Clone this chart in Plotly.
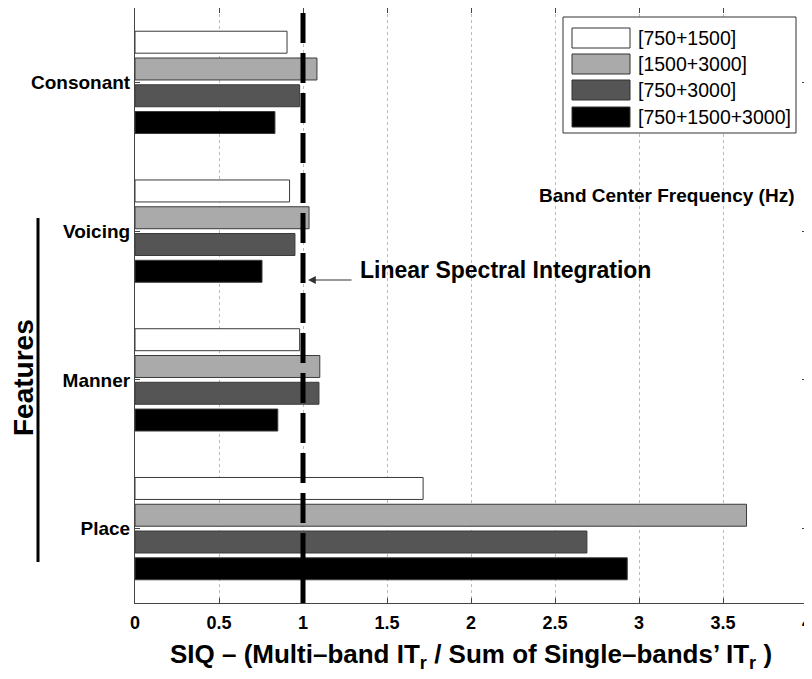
import plotly.graph_objects as go

features = ["Consonant", "Voicing", "Manner", "Place"]

bands = ["[750+1500]", "[1500+3000]", "[750+3000]", "[750+1500+3000]"]
band_colors = ["#ffffff", "#aaaaaa", "#555555", "#000000"]

siq_750_1500 = [0.905, 0.92, 0.98, 1.715]
siq_1500_3000 = [1.083, 1.036, 1.10, 3.64]
siq_750_3000 = [0.98, 0.952, 1.095, 2.69]
siq_all = [0.833, 0.756, 0.85, 2.93]

series = [siq_750_1500, siq_1500_3000, siq_750_3000, siq_all]

x_ticks = [0, 0.5, 1, 1.5, 2, 2.5, 3, 3.5, 4]

FONT = "Liberation Sans, Arial, Helvetica, sans-serif"


# page pixel -> paper coords (page has an 8px body margin)
def px_x(px):
    return (px - 135) / 672


def px_y(py):
    return (603 - py) / 595


fig = go.Figure()

for name, color, vals in zip(bands, band_colors, series):
    fig.add_bar(
        name=name,
        x=vals,
        y=features,
        orientation="h",
        marker=dict(color=color, line=dict(color="#3a3a3a", width=1)),
        showlegend=False,
    )

# linear spectral integration reference
fig.add_shape(type="line", xref="x", yref="paper", x0=1, x1=1, y0=0, y1=1,
              line=dict(color="black", width=5, dash="30px,10px"))

# hand made legend with wide swatches
fig.add_shape(type="rect", xref="paper", yref="paper",
              x0=px_x(563), x1=px_x(796), y0=px_y(133), y1=px_y(17),
              line=dict(color="#333333", width=1), fillcolor="white")
row_px = [38, 64, 90, 117]
for name, color, py in zip(bands, band_colors, row_px):
    fig.add_shape(type="rect", xref="paper", yref="paper",
                  x0=px_x(572), x1=px_x(630), y0=px_y(py + 10), y1=px_y(py - 10),
                  line=dict(color="#333333", width=1), fillcolor=color)
    fig.add_annotation(x=px_x(636), y=px_y(py), xref="paper", yref="paper",
                       text=name, showarrow=False,
                       xanchor="left", yanchor="middle",
                       font=dict(size=19.5, color="black"))

fig.add_annotation(x=px_x(666), y=px_y(195), xref="paper", yref="paper",
                   text="<b>Band Center Frequency (Hz)</b>", showarrow=False,
                   xanchor="center", yanchor="middle",
                   font=dict(size=19, color="black"))

fig.add_annotation(x=1.327, y=px_y(270), xref="x", yref="paper",
                   text="<b>Linear Spectral Integration</b>", showarrow=False,
                   xanchor="left", yanchor="middle",
                   font=dict(size=23, color="black"))
fig.add_annotation(x=1.03, y=px_y(280), xref="x", yref="paper", text="",
                   showarrow=True, axref="pixel", ayref="pixel", ax=45, ay=0,
                   arrowhead=2, arrowsize=1.3, arrowwidth=1.2, arrowcolor="#333333")

# Features bracket
fig.add_shape(type="line", xref="paper", yref="paper",
              x0=px_x(38), x1=px_x(38), y0=px_y(562), y1=px_y(218),
              line=dict(color="black", width=3))
fig.add_annotation(x=px_x(23), y=px_y(378), xref="paper", yref="paper",
                   text="<b>Features</b>", showarrow=False, textangle=-90,
                   xanchor="center", yanchor="middle",
                   font=dict(size=28, color="black"))

fig.update_layout(
    barmode="group",
    bargap=0.28,
    bargroupgap=0.18,
    width=812,
    height=679,
    margin=dict(l=127, r=13, t=0, b=84),
    plot_bgcolor="white",
    paper_bgcolor="white",
    font=dict(family=FONT, color="black"),
)

fig.update_xaxes(
    range=[0, 4],
    tickvals=x_ticks,
    ticktext=["<b>%g</b>" % v for v in x_ticks],
    tickfont=dict(size=18),
    ticks="inside",
    ticklen=5,
    ticklabelstandoff=3,
    tickcolor="#444444",
    showline=True,
    linecolor="#444444",
    mirror="ticks",
    showgrid=True,
    gridcolor="#bbbbbb",
    griddash="dot",
    zeroline=False,
    automargin=False,
    title=dict(text="<b>SIQ – (Multi–band IT<sub>r</sub> / Sum of Single–bands’ IT<sub>r</sub> )</b>",
               font=dict(size=26), standoff=13),
)

fig.update_yaxes(
    range=[3.5, -0.5],
    tickvals=features,
    ticktext=["<b>%s</b>" % f for f in features],
    tickfont=dict(size=19),
    ticks="inside",
    ticklen=5,
    tickcolor="#444444",
    showline=True,
    linecolor="#444444",
    mirror="ticks",
    showgrid=False,
    zeroline=False,
    automargin=False,
)

fig.write_html("out.html")
